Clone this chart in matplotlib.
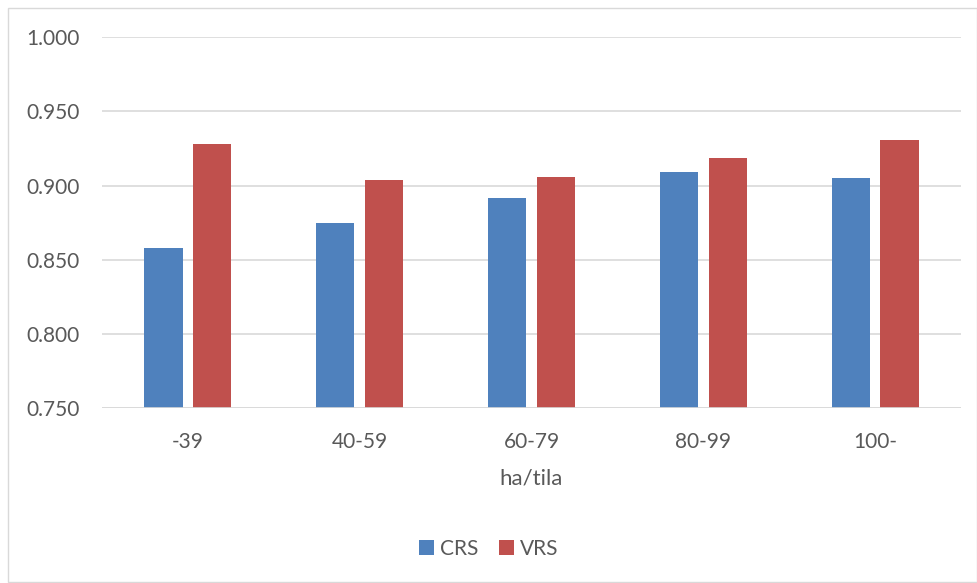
import numpy as np
import matplotlib.pyplot as plt
from matplotlib.patches import Rectangle

# farm size classes (hectares per farm) and efficiency scores
categories = ['-39', '40-59', '60-79', '80-99', '100-']
crs = [0.858, 0.875, 0.892, 0.909, 0.905]
vrs = [0.928, 0.904, 0.906, 0.919, 0.931]

plt.rcParams['font.family'] = ['Lato', 'DejaVu Sans']
text_col = '#595959'
grid_col = '#d9d9d9'

fig = plt.figure(figsize=(9.78, 5.83), dpi=100)
ax = fig.add_axes([102 / 978, 1 - 408.3 / 583, 859 / 978, 371 / 583])

x = np.arange(len(categories))
w = 0.222
off = 0.142
ax.bar(x - off, crs, w, bottom=0, color='#4f81bd', label='CRS', zorder=3)
ax.bar(x + off, vrs, w, bottom=0, color='#c0504d', label='VRS', zorder=3)

ax.set_ylim(0.75, 1.0)
ax.set_xlim(-0.5, len(categories) - 0.5)
yt = np.arange(0.75, 1.0001, 0.05)
ax.set_yticks(yt)
ax.set_yticklabels([f'{v:.3f}' for v in yt])
ax.set_xticks(x)
ax.set_xticklabels(categories)
ax.yaxis.grid(True, color=grid_col, linewidth=1.2, zorder=0)
ax.tick_params(length=0, labelsize=15, colors=text_col)
ax.tick_params(axis='y', pad=16)
ax.tick_params(axis='x', pad=17)
for s in ax.spines.values():
    s.set_visible(False)
ax.axhline(0.75, color=grid_col, linewidth=1.2, zorder=4)

ax.set_xlabel('ha/tila', fontsize=16, color=text_col, labelpad=12)

fig.legend(loc='center', bbox_to_anchor=(0.5, 1 - 549 / 583), ncol=2, frameon=False,
           fontsize=15, labelcolor=text_col, handlelength=0.7, handleheight=0.7,
           handletextpad=0.3, columnspacing=1.0)

# outer chart border
fig.patches.append(Rectangle((8 / 978, 0.002), 969 / 978, 1 - 8 / 583 - 0.002,
                             transform=fig.transFigure, fill=False,
                             edgecolor=grid_col, linewidth=1))

fig.savefig('out.png', dpi=100)
